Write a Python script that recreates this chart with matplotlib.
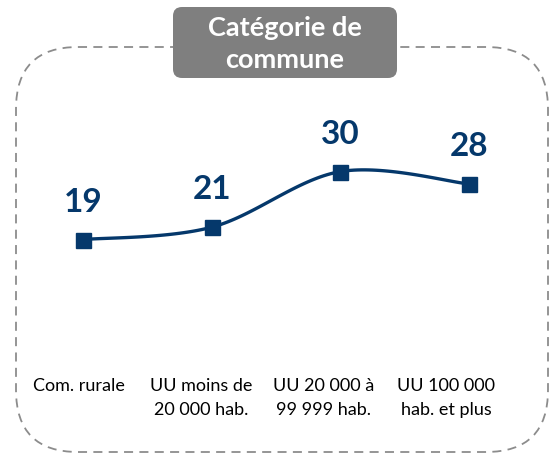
import numpy as np
import matplotlib.pyplot as plt
from matplotlib.patches import FancyBboxPatch

categories = ["Com. rurale", "UU moins de\n20 000 hab.", "UU 20 000 à\n99 999 hab.", "UU 100 000\nhab. et plus"]
values = [19, 21, 30, 28]
title = "Catégorie de\ncommune"

blue = '#05386b'
plt.rcParams['font.family'] = ['Lato', 'DejaVu Sans']

fig = plt.figure(figsize=(5.5, 4.54), dpi=100)

# background layer in pixel units: dashed frame + title box
bg = fig.add_axes([0, 0, 1, 1])
bg.set_xlim(0, 550)
bg.set_ylim(454, 0)
bg.axis('off')
bg.add_patch(FancyBboxPatch((16, 47), 532, 405, boxstyle='round,pad=0,rounding_size=62',
                            fill=False, edgecolor='#8c8c8c', linewidth=1.3,
                            linestyle=(0, (5, 3.5))))
bg.add_patch(FancyBboxPatch((173, 7), 224, 71, boxstyle='round,pad=0,rounding_size=9',
                            facecolor='#7f7f7f', edgecolor='none'))
bg.text(285, 44, title, color='white', fontsize=19.5, fontweight='bold',
        ha='center', va='center', linespacing=1.38)

ax = fig.add_axes([18.7 / 550, 97 / 454, 514.6 / 550, 247.2 / 454])
ax.set_xlim(-0.5, 3.5)
ax.set_ylim(0, 40)
ax.axis('off')

x = np.arange(len(values))
y = np.array(values, dtype=float)

# smoothed line like Excel (Catmull-Rom as cubic bezier)
pts = np.column_stack([x, y])
ext = np.vstack([pts[0], pts, pts[-1]])
t = np.linspace(0, 1, 40)[:, None]
curve = []
for i in range(len(pts) - 1):
    p0 = ext[i + 1]
    p3 = ext[i + 2]
    c1 = p0 + (ext[i + 2] - ext[i]) / 6
    c2 = p3 - (ext[i + 3] - ext[i + 1]) / 6
    curve.append((1 - t) ** 3 * p0 + 3 * (1 - t) ** 2 * t * c1 + 3 * (1 - t) * t ** 2 * c2 + t ** 3 * p3)
curve = np.vstack(curve)

ax.plot(curve[:, 0], curve[:, 1], color=blue, lw=2.4, solid_capstyle='round')
ax.plot(x, y, 's', color=blue, ms=10.8)

for xi, v in zip(x, values):
    ax.annotate(str(v), (xi, v), xytext=(0, 20), textcoords='offset points',
                ha='center', va='baseline', fontsize=24, fontweight='bold', color=blue)

for i, lab in enumerate(categories):
    ax.annotate(lab, (-0.03 + 0.951 * i, 0), xytext=(0, -15), textcoords='offset points',
                ha='center', va='top', fontsize=13, color='black', linespacing=1.6,
                annotation_clip=False)

fig.savefig('out.png', dpi=100)
